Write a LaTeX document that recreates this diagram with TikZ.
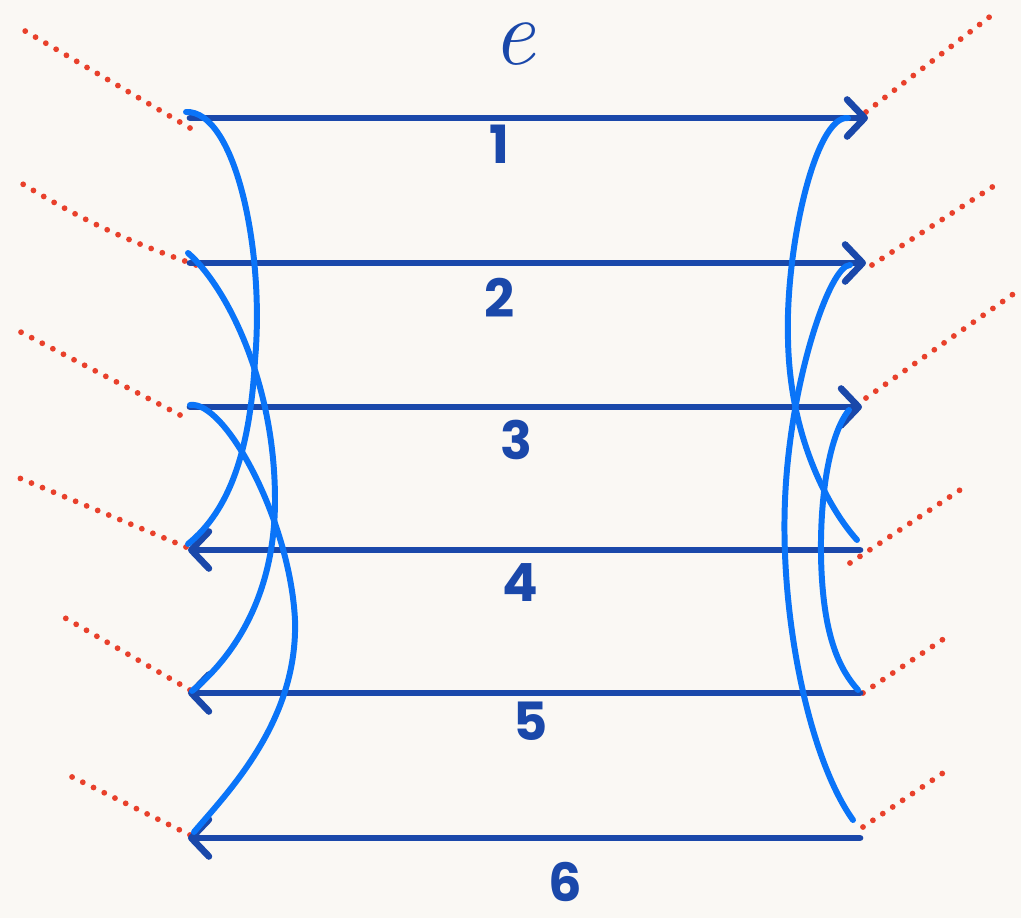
\documentclass[tikz,border=0pt]{standalone}
\usepackage{fontspec}
\usetikzlibrary{arrows.meta,calc}
\newfontfamily\handfont{Poppins}
\definecolor{StrandBlue}{HTML}{1A48AA}
\definecolor{LinkBlue}{HTML}{0A74F8}
\definecolor{DotRed}{HTML}{E8402B}
\definecolor{Paper}{HTML}{FAF8F4}

\begin{document}
\begin{tikzpicture}[x=0.02cm,y=-0.02cm,
  strand/.style={draw=StrandBlue,line width=3.8pt,line cap=round},
  outarrow/.style={-{Straight Barb[length=10pt,width=21pt,round]}},
  inarrow/.style={{Straight Barb[length=10pt,width=21pt,round]}-},
  link/.style={draw=LinkBlue,line width=3.4pt,line cap=round},
  dots/.style={draw=DotRed,line width=3.3pt,line cap=round,dash pattern=on 0pt off 6.8pt},
  num/.style={text=StrandBlue,inner sep=0pt,font=\handfont\bfseries\fontsize{30}{30}\selectfont}]
  % paper
  \fill[Paper] (0,0) rectangle (1021,918);
  \useasboundingbox (0,0) rectangle (1021,918);

  % strand ends
  \coordinate (w1) at (190,118); \coordinate (e1) at (868,118);
  \coordinate (w2) at (190,263); \coordinate (e2) at (866,263);
  \coordinate (w3) at (190,407); \coordinate (e3) at (862,407);
  \coordinate (w4) at (188,550); \coordinate (e4) at (860,550);
  \coordinate (w5) at (188,693); \coordinate (e5) at (860,693);
  \coordinate (w6) at (188,838); \coordinate (e6) at (860,838);

  % far ends of the dotted tails
  \coordinate (fw1) at (20,28);  \coordinate (fe1) at (992,15);
  \coordinate (fw2) at (16,180); \coordinate (fe2) at (1000,182);
  \coordinate (fw3) at (13,328); \coordinate (fe3) at (1019,290);
  \coordinate (fw4) at (12,475); \coordinate (fe4) at (960,490);
  \coordinate (fw5) at (60,615); \coordinate (fe5) at (945,638);
  \coordinate (fw6) at (62,772); \coordinate (fe6) at (943,773);

  \draw[dots] ($(w1)+(0,10)$) -- (fw1);
  \draw[dots] ($(w2)+(6,2)$) to[bend left=6] (fw2);
  \draw[dots] ($(w3)+(-10,8)$) -- (fw3);
  \draw[dots] ($(w4)+(-2,-3)$) -- (fw4);
  \draw[dots] ($(w5)+(2,-3)$) -- (fw5);
  \draw[dots] ($(w6)+(2,-3)$) -- (fw6);
  \draw[dots] ($(e1)+(-2,-6)$) -- (fe1);
  \draw[dots] ($(e2)+(6,2)$) -- (fe2);
  \draw[dots] ($(e3)+(4,-9)$) -- (fe3);
  \draw[dots] ($(e4)+(-10,13)$) -- (fe4);
  \draw[dots] ($(e5)+(3,0)$) -- (fe5);
  \draw[dots] ($(e6)+(3,-11)$) -- (fe6);

  % strands
  \draw[strand,outarrow] (w1) -- (e1);
  \draw[strand,outarrow] (w2) -- (e2);
  \draw[strand,outarrow] (w3) -- (e3);
  \draw[strand,inarrow] (w4) -- (e4);
  \draw[strand,inarrow] (w5) -- (e5);
  \draw[strand,inarrow] (w6) -- (e6);

  % links on the left
  \draw[link] ($(w1)+(-4,-6)$) .. controls (235,110) and (265,250) .. (255,360)
    .. controls (250,450) and (230,510) .. ($(w4)+(0,-6)$);
  \draw[link] ($(w2)+(-2,-10)$) .. controls (225,285) and (275,380) .. (275,500)
    .. controls (275,600) and (230,660) .. ($(w5)+(4,-2)$);
  \draw[link] ($(w3)+(0,-2)$) .. controls (225,400) and (290,520) .. (295,620)
    .. controls (298,720) and (230,790) .. ($(w6)+(6,-6)$);

  % links on the right
  \draw[link] ($(e1)+(-20,0)$) .. controls (815,115) and (785,250) .. (788,340)
    .. controls (790,440) and (830,510) .. ($(e4)+(-3,-10)$);
  \draw[link] ($(e2)+(-16,2)$) .. controls (830,265) and (790,380) .. (785,500)
    .. controls (780,620) and (810,760) .. ($(e6)+(-7,-18)$);
  \draw[link] ($(e3)+(-13,3)$) .. controls (825,440) and (818,520) .. (822,580)
    .. controls (826,640) and (840,670) .. ($(e5)+(-2,-3)$);

  % labels
  \node[text=StrandBlue,inner sep=0pt,font=\fontsize{54}{54}\selectfont\itshape] (name) at (514,44) {e};
  \node[num] (n1) at (499,144) {1};
  \node[num] (n2) at (500,298) {2};
  \node[num] (n3) at (516,440) {3};
  \node[num] (n4) at (520,583) {4};
  \node[num] (n5) at (531,721) {5};
  \node[num] (n6) at (565,882) {6};
\end{tikzpicture}
\end{document}
